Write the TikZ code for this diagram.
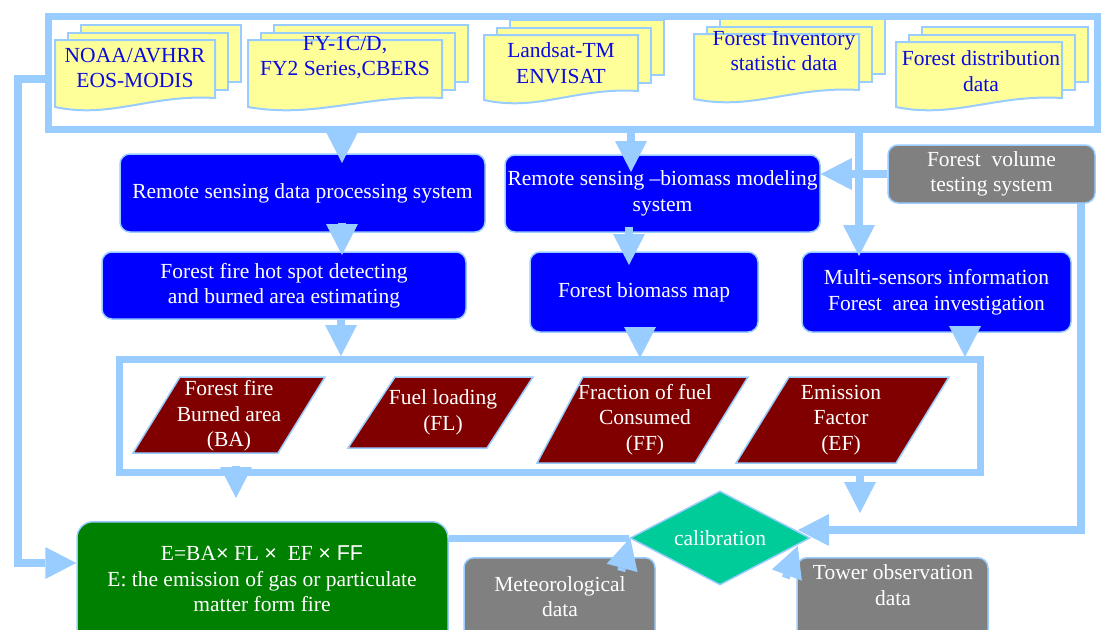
\documentclass[tikz,border=0pt]{standalone}
\usepackage{fontspec}
\setmainfont{Liberation Serif}
\setsansfont{Liberation Sans}
\usetikzlibrary{arrows.meta,shapes.geometric,calc}
\definecolor{lb}{RGB}{153,204,255}
\definecolor{docfill}{RGB}{255,255,153}
\definecolor{doctext}{RGB}{10,10,225}
\definecolor{bluebox}{RGB}{0,0,255}
\definecolor{graybox}{RGB}{128,128,128}
\definecolor{greenbox}{RGB}{0,128,0}
\definecolor{darkred}{RGB}{128,0,0}
\definecolor{tealbox}{RGB}{0,204,153}
\newcommand{\dfont}{\fontsize{21.5}{25.5}\selectfont}
\tikzset{
 frame/.style={draw=lb, line width=7pt, inner sep=0pt},
 docpage/.style={draw=lb, fill=docfill, line width=2pt},
 doctxt/.style={text=doctext, align=center, inner sep=0pt, font=\dfont},
 bbox/.style={draw=lb, line width=1.5pt, rounded corners=10pt, fill=bluebox, text=white, align=center, inner sep=0pt, font=\dfont},
 gbox/.style={bbox, fill=graybox},
 grbox/.style={bbox, fill=greenbox, rounded corners=16pt},
 wtxt/.style={text=white, align=center, inner sep=0pt, font=\dfont},
 para/.style={draw=lb, line width=1.5pt, fill=darkred},
 arr/.style={draw=lb, line width=8pt, -{Triangle[length=31pt,width=32pt,line width=0pt]}},
 ln/.style={draw=lb, line width=7pt},
}
% name, x0, y0, w, h, tx, ty, text
\newcommand{\mdoc}[8]{%
 \draw[docpage] (#2+26,#3-15) rectangle ++(#4,#5-1);
 \draw[docpage] (#2+13,#3-7.5) rectangle ++(#4,#5-1);
 \draw[docpage] (#2,#3) -- (#2+#4,#3) -- (#2+#4,#3+#5)
   .. controls (#2+0.6*#4,#3+#5-4) and (#2+0.35*#4,#3+#5+21) .. (#2,#3+#5+9) -- cycle;
 \node[doctxt] (#1) at (#6,#7) {#8};
}
\begin{document}
\begin{tikzpicture}[x=1pt,y=-1pt]
\useasboundingbox (0,0) rectangle (1102,629);
% frames
\node[frame, minimum width=1049pt, minimum height=113pt] (top) at (572.5,72.5) {};
\node[frame, minimum width=861pt, minimum height=113pt] (param) at (549.5,415.5) {};
% documents
\mdoc{d1}{55}{40}{160}{58}{135}{68}{NOAA/AVHRR\\EOS-MODIS}
\mdoc{d2}{248}{40}{194}{58}{345}{57.5}{FY-1C/D,\\FY2 Series,CBERS}
\mdoc{d3}{484}{35}{154}{56}{561}{63}{Landsat-TM\\ENVISAT}
\mdoc{d4}{694}{34}{165}{56}{784}{51}{Forest Inventory\\statistic data}
\mdoc{d5}{896}{42}{166}{56}{981}{71}{Forest distribution\\data}
% boxes
\node[bbox, minimum width=365pt, minimum height=78pt] (rsp) at (302.5,193) {Remote sensing data processing system};
\node[bbox, minimum width=364pt, minimum height=67pt] (hot) at (284,285.5) {Forest fire hot spot detecting\\and burned area estimating};
\node[bbox, minimum width=315pt, minimum height=77pt] (bio) at (662.5,193.5) {Remote sensing --biomass modeling\\system};
\node[bbox, minimum width=228pt, minimum height=80pt] (map) at (644,292) {Forest biomass map};
\node[bbox, minimum width=269pt, minimum height=80pt] (multi) at (936.5,292) {Multi-sensors information\\Forest\ \ area investigation};
\node[gbox, minimum width=207pt, minimum height=58pt] (vol) at (991.5,174) {Forest\ \ volume\\testing system};
% parameters
\draw[para] (133,453) -- (180,377) -- (325,377) -- (278,453) -- cycle;
\draw[para] (348,448) -- (395,377) -- (533,377) -- (487,448) -- cycle;
\draw[para] (537,463) -- (583,377) -- (748,377) -- (695,463) -- cycle;
\draw[para] (736,463) -- (789,377) -- (949,377) -- (896,463) -- cycle;
\node[wtxt] (ba) at (229,416) {Forest fire\\Burned area\\(BA)};
\node[wtxt] (fl) at (443,412.5) {Fuel loading\\(FL)};
\node[wtxt] (ff) at (645,419.5) {Fraction of fuel\\Consumed\\(FF)};
\node[wtxt] (ef) at (841,420) {Emission\\Factor\\(EF)};
% bottom
\node[grbox, minimum width=371pt, minimum height=130pt, anchor=north] (green) at (262.5,521) {};
\node[wtxt] (eq) at (262,579) {E=BA{\sffamily ×} FL {\sffamily ×}\ \ EF {\sffamily × FF}\\E: the emission of gas or particulate\\matter form fire};
\node[gbox, minimum width=191pt, minimum height=100pt, anchor=north] (met) at (559.5,557) {};
\node[wtxt] (mettxt) at (560,596.5) {Meteorological\\data};
\node[gbox, minimum width=191pt, minimum height=100pt, anchor=north] (tower) at (892.5,557) {};
\node[wtxt] (towtxt) at (893,585) {Tower observation\\data};
\node[diamond, aspect=1.9, draw=lb, line width=1.5pt, fill=tealbox, minimum width=180pt, minimum height=94pt, inner sep=0pt, text=white, font=\dfont] (cal) at (720,538) {calibration};
% connectors
\coordinate (t1) at (342,163);
\coordinate (t2) at (342,255);
\coordinate (t3) at (341,356);
\coordinate (t4) at (631,172);
\coordinate (t5) at (629,265);
\coordinate (t6) at (640,358);
\coordinate (t7) at (859,256);
\coordinate (t9) at (965,357);
\coordinate (t10) at (236,498);
\coordinate (t11) at (860,513);
\coordinate (c12) at (1081,530);
\coordinate (t12) at (798,530);
\coordinate (l1) at (18,79);
\coordinate (l2) at (18,563);
\draw[arr] ($(top.south -| t1)+(0,-4)$) -- (t1);
\draw[arr] ($(rsp.south -| t2)+(0,-10)$) -- (t2);
\draw[arr] (hot.south -| t3) -- (t3);
\draw[arr] ($(top.south -| t4)+(0,-3)$) -- (t4);
\draw[arr] ($(bio.south -| t5)+(0,-6)$) -- (t5);
\draw[arr] ($(map.south -| t6)+(0,-6)$) -- (t6);
\draw[arr] (top.south -| t7) -- (t7);
\draw[arr] (vol.west) -- (bio.east |- vol.west);
\draw[arr] ($(multi.south -| t9)+(0,-6)$) -- (t9);
\draw[arr] ($(param.south -| t10)+(0,-10)$) -- (t10);
\draw[arr] ($(param.south -| t11)+(0,-4)$) -- (t11);
\draw[arr] (vol.south -| c12) -- (c12) -- (t12);
\draw[ln] (cal.west -| green.east) -- (cal.west);
\draw[arr] ($(cal.west)+(-8,33)$) -- ($(cal.west)+(1,0)$);
\draw[arr] ($(cal.east)+(-25,40)$) -- ($(cal.east)+(-13,8)$);
\draw[arr] (top.west |- l1) -- (l1) -- (l2) -- (green.west |- l2);
\end{tikzpicture}
\end{document}
